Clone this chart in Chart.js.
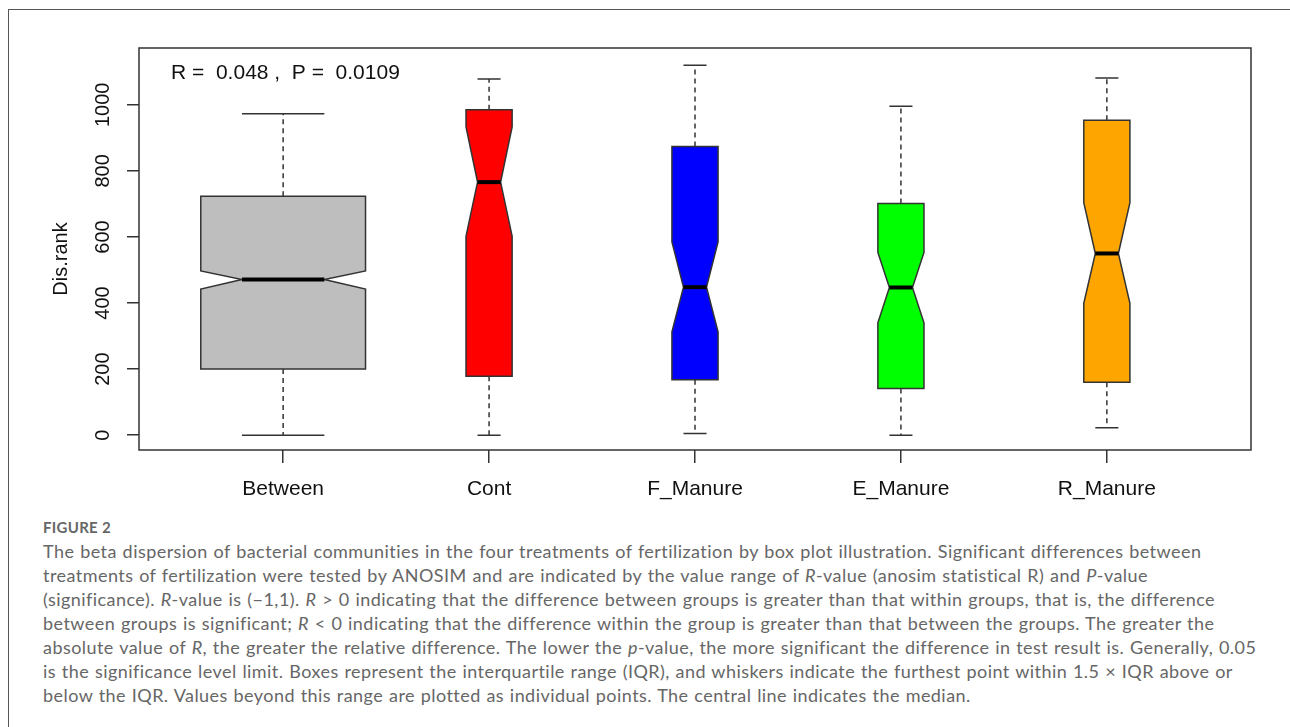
<!DOCTYPE html>
<html>
<head>
<meta charset="utf-8">
<script src="https://cdn.jsdelivr.net/npm/chart.js@4.4.1/dist/chart.umd.min.js"></script>
<style>
  body { margin: 0; background: #fff; width: 1290px; height: 727px; overflow: hidden; position: relative; }
  #frameTop { position: absolute; left: 9px; top: 9px; width: 1281px; height: 0; border-top: 1.5px solid #555; }
  #frameLeft { position: absolute; left: 8px; top: 9px; width: 0; height: 718px; border-left: 1.5px solid #555; }
  #chart1 { position: absolute; left: 0; top: 0; }
  .fig { position: absolute; left: 43px; top: 518px; font: bold 15px Lato, sans-serif; color: #666; line-height: 18px; letter-spacing: 0.3px; }
  .cap { position: absolute; left: 43px; top: 539px; font: 18px Lato, sans-serif; color: #666; line-height: 24px; white-space: nowrap; letter-spacing: 0.45px; word-spacing: 0.7px; }
</style>
</head>
<body>
<div id="frameTop"></div>
<div id="frameLeft"></div>
<canvas id="chart1" width="1290" height="505"></canvas>
<div class="fig">FIGURE 2</div>
<div class="cap">
<div>The beta dispersion of bacterial communities in the four treatments of fertilization by box plot illustration. Significant differences between</div>
<div>treatments of fertilization were tested by ANOSIM and are indicated by the value range of <i>R</i>-value (anosim statistical R) and <i>P</i>-value</div>
<div>(significance). <i>R</i>-value is (−1,1). <i>R</i> &gt; 0 indicating that the difference between groups is greater than that within groups, that is, the difference</div>
<div>between groups is significant; <i>R</i> &lt; 0 indicating that the difference within the group is greater than that between the groups. The greater the</div>
<div>absolute value of <i>R</i>, the greater the relative difference. The lower the <i>p</i>-value, the more significant the difference in test result is. Generally, 0.05</div>
<div>is the significance level limit. Boxes represent the interquartile range (IQR), and whiskers indicate the furthest point within 1.5 × IQR above or</div>
<div>below the IQR. Values beyond this range are plotted as individual points. The central line indicates the median.</div>
</div>
<script>
// данные боксплотов
const groups = ['Between', 'Cont', 'F_Manure', 'E_Manure', 'R_Manure'];
const whiskerLow = [0, 0, 5, 0, 22];
const q1 = [200, 178, 168, 141, 160];
const notchLow = [442, 602, 313, 340, 399];
const median = [471, 766, 448, 447, 550];
const notchHigh = [497, 933, 585, 553, 704];
const q3 = [723, 985, 874, 701, 953];
const whiskerHigh = [973, 1078, 1120, 996, 1081];
const yTicks = [0, 200, 400, 600, 800, 1000];
const statText = 'R =  0.048 ,  P =  0.0109';

// стиль
const boxColors = ['#bebebe', '#ff0000', '#0000ff', '#00ff00', '#ffa500'];
const boxWidths = [0.8, 0.224, 0.224, 0.224, 0.224];
const lineColor = '#333';

const boxPlugin = {
    id: 'notchedBoxes',
    afterDatasetsDraw(chart) {
        const ctx = chart.ctx;
        const x = chart.scales.x;
        const y = chart.scales.y;
        const area = chart.chartArea;

        ctx.save();
        groups.forEach((g, i) => {
            const c = i + 1;
            const hw = boxWidths[i] / 2;
            const xl = x.getPixelForValue(c - hw);
            const xr = x.getPixelForValue(c + hw);
            const xm = x.getPixelForValue(c);
            const xnl = x.getPixelForValue(c - hw / 2);
            const xnr = x.getPixelForValue(c + hw / 2);

            // усы (пунктир)
            ctx.strokeStyle = lineColor;
            ctx.lineWidth = 1.5;
            ctx.setLineDash([5, 4]);
            ctx.beginPath();
            ctx.moveTo(xm, y.getPixelForValue(q3[i]));
            ctx.lineTo(xm, y.getPixelForValue(whiskerHigh[i]));
            ctx.moveTo(xm, y.getPixelForValue(q1[i]));
            ctx.lineTo(xm, y.getPixelForValue(whiskerLow[i]));
            ctx.stroke();
            ctx.setLineDash([]);
            ctx.beginPath();
            ctx.moveTo(xnl, y.getPixelForValue(whiskerHigh[i]));
            ctx.lineTo(xnr, y.getPixelForValue(whiskerHigh[i]));
            ctx.moveTo(xnl, y.getPixelForValue(whiskerLow[i]));
            ctx.lineTo(xnr, y.getPixelForValue(whiskerLow[i]));
            ctx.stroke();

            // коробка с выемкой
            ctx.beginPath();
            ctx.moveTo(xl, y.getPixelForValue(q1[i]));
            ctx.lineTo(xl, y.getPixelForValue(notchLow[i]));
            ctx.lineTo(xnl, y.getPixelForValue(median[i]));
            ctx.lineTo(xl, y.getPixelForValue(notchHigh[i]));
            ctx.lineTo(xl, y.getPixelForValue(q3[i]));
            ctx.lineTo(xr, y.getPixelForValue(q3[i]));
            ctx.lineTo(xr, y.getPixelForValue(notchHigh[i]));
            ctx.lineTo(xnr, y.getPixelForValue(median[i]));
            ctx.lineTo(xr, y.getPixelForValue(notchLow[i]));
            ctx.lineTo(xr, y.getPixelForValue(q1[i]));
            ctx.closePath();
            ctx.fillStyle = boxColors[i];
            ctx.fill();
            ctx.stroke();

            // медиана
            ctx.strokeStyle = '#000';
            ctx.lineWidth = 4;
            ctx.beginPath();
            ctx.moveTo(xnl, y.getPixelForValue(median[i]));
            ctx.lineTo(xnr, y.getPixelForValue(median[i]));
            ctx.stroke();
        });

        // рамка графика
        ctx.strokeStyle = lineColor;
        ctx.lineWidth = 1.5;
        ctx.strokeRect(area.left, area.top, area.right - area.left, area.bottom - area.top);

        // подписи оси Y (повернутые, как в R)
        ctx.fillStyle = '#111';
        ctx.font = '20px "Liberation Sans", Arial, sans-serif';
        ctx.textAlign = 'center';
        ctx.textBaseline = 'alphabetic';
        yTicks.forEach(v => {
            ctx.save();
            ctx.translate(109, y.getPixelForValue(v));
            ctx.rotate(-Math.PI / 2);
            ctx.fillText(String(v), 0, 0);
            ctx.restore();
        });
        ctx.save();
        ctx.translate(67, (area.top + area.bottom) / 2 + 10);
        ctx.rotate(-Math.PI / 2);
        ctx.fillText('Dis.rank', 0, 0);
        ctx.restore();

        // R и P
        ctx.textAlign = 'left';
        ctx.font = '21px "Liberation Sans", Arial, sans-serif';
        ctx.fillText(statText, 171, 78.5);
        ctx.restore();
    }
};

document.addEventListener('DOMContentLoaded', () => {
    const chart1 = document.getElementById('chart1');
    new Chart(chart1.getContext('2d'), {
        type: 'scatter',
        data: {
            datasets: [{
                data: median.map((m, i) => ({ x: i + 1, y: m })),
                pointRadius: 0
            }]
        },
        plugins: [boxPlugin],
        options: {
            responsive: false,
            animation: false,
            layout: { padding: { top: 48, right: 39, left: 0, bottom: 0 } },
            plugins: { legend: { display: false }, tooltip: { enabled: false } },
            scales: {
                x: {
                    type: 'linear',
                    min: 0.3,
                    max: 5.7,
                    afterBuildTicks: s => { s.ticks = groups.map((g, i) => ({ value: i + 1 })); },
                    afterFit: s => { s.height = 55; },
                    grid: { drawOnChartArea: false, drawTicks: true, tickLength: 13, color: lineColor, lineWidth: 1.5 },
                    border: { display: false },
                    ticks: {
                        padding: 14,
                        color: '#111',
                        font: { family: '"Liberation Sans", Arial, sans-serif', size: 21 },
                        maxRotation: 0,
                        callback: v => groups[v - 1]
                    }
                },
                y: {
                    min: -45,
                    max: 1172,
                    afterBuildTicks: s => { s.ticks = yTicks.map(v => ({ value: v })); },
                    afterFit: s => { s.width = 139; },
                    grid: { drawOnChartArea: false, drawTicks: true, tickLength: 12, color: lineColor, lineWidth: 1.5 },
                    border: { display: false },
                    ticks: { display: false }
                }
            }
        }
    });
});
</script>
</body>
</html>
